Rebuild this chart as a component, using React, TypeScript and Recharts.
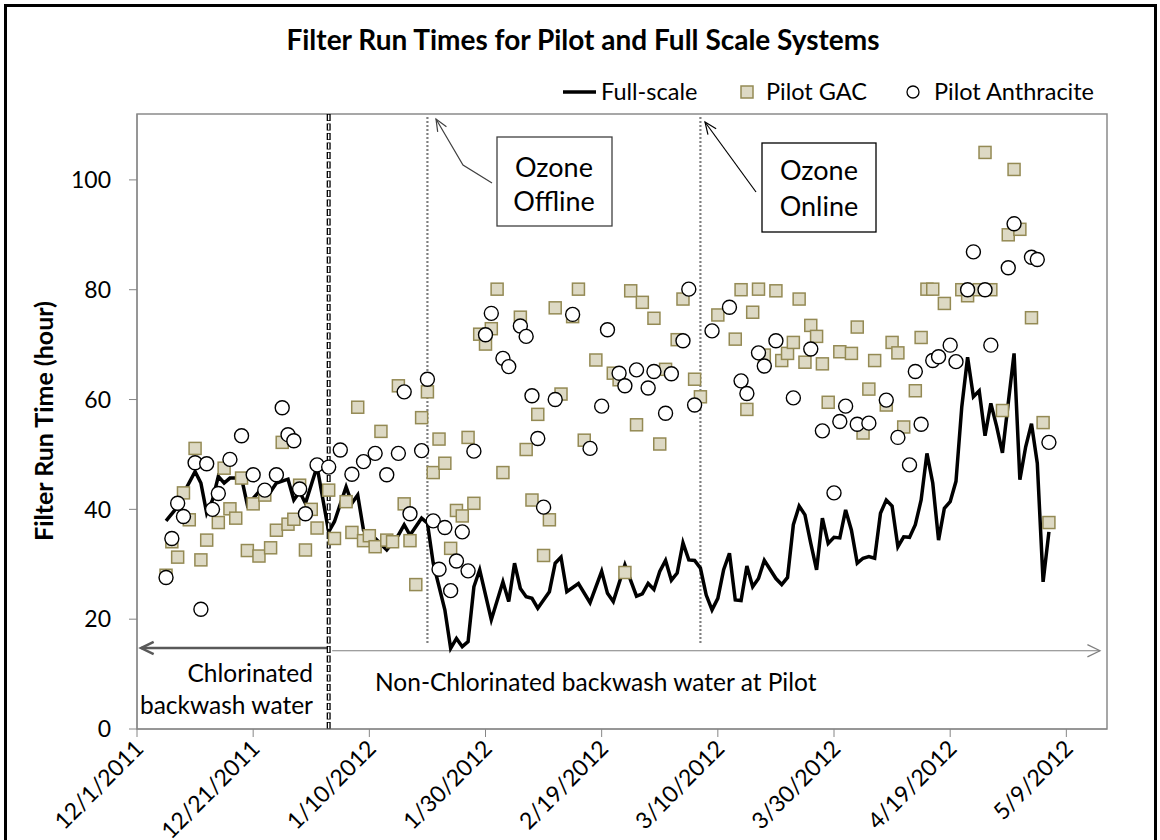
import React from 'react';
import { ComposedChart, Line, Scatter, XAxis, YAxis, ReferenceLine, ReferenceArea } from 'recharts';

// days counted from 12/1/2011
const dayTicks = [0, 20, 40, 60, 80, 100, 120, 140, 160];
const hourTicks = [0, 20, 40, 60, 80, 100];

const fullScaleDays = [
  5, 7, 8, 10, 11, 12, 13, 14, 15, 16,
  18, 19, 21, 23, 24, 26, 27, 28, 29, 31,
  33, 34, 36, 37, 38, 39, 41, 43, 45, 46,
  47, 49, 50, 51, 53, 54, 55, 56, 57, 58,
  59, 61, 63, 64, 65, 66, 67, 68, 69, 70,
  71, 72, 73, 74, 76, 78, 80, 81, 82, 84,
  86, 87, 88, 89, 90, 91, 92, 93, 94, 95,
  96, 97, 98, 99, 100, 101, 102, 103, 104, 105,
  106, 107, 108, 110, 111, 112, 113, 114, 115, 116,
  117, 118, 119, 120, 121, 122, 123, 124, 125, 126,
  127, 128, 129, 130, 131, 132, 133, 134, 135, 136,
  137, 138, 139, 140, 141, 142, 143, 144, 145, 146,
  147, 148, 149, 151, 152, 153, 154, 155, 156, 157,
];
const fullScaleHours = [
  37.9, 40.5, 42.9, 46.9, 44.8, 39.3, 41.7, 46.0, 44.8, 45.7,
  45.7, 40.8, 43.2, 43.2, 44.8, 45.5, 41.7, 43.2, 41.1, 47.8,
  35.9, 37.8, 44.1, 41.1, 42.6, 36.2, 34.7, 32.6, 35.3, 37.2,
  35.3, 38.4, 37.5, 30.2, 21.7, 14.7, 16.5, 15.0, 15.9, 25.9,
  29.0, 19.9, 26.8, 23.2, 30.2, 25.6, 24.1, 23.8, 22.0, 23.5,
  25.0, 30.2, 31.3, 25.0, 26.5, 23.0, 28.7, 24.7, 23.2, 29.9,
  24.2, 24.6, 26.5, 25.4, 28.7, 30.7, 27.1, 28.4, 33.9, 30.8,
  30.7, 29.3, 24.4, 21.7, 23.8, 29.0, 32.0, 23.5, 23.4, 29.7,
  25.9, 27.4, 30.7, 27.4, 26.3, 27.6, 37.2, 40.6, 39.0, 33.8,
  29.0, 38.4, 33.8, 34.9, 34.8, 39.9, 36.2, 30.2, 31.1, 31.4,
  31.1, 39.3, 41.7, 40.6, 33.2, 35.0, 34.9, 37.2, 41.7, 50.2,
  44.8, 34.4, 40.2, 41.4, 45.1, 58.7, 67.7, 60.5, 61.6, 53.4,
  59.3, 55.1, 50.3, 68.4, 45.4, 51.4, 55.6, 48.4, 26.8, 35.9,
];

const gacDays = [
  5, 6, 7, 8, 9, 10, 11, 12, 14, 15,
  16, 17, 18, 19, 20, 21, 22, 23, 24, 25,
  26, 27, 28, 29, 30, 31, 33, 34, 36, 37,
  38, 39, 40, 41, 42, 43, 44, 45, 46, 47,
  48, 49, 50, 51, 52, 53, 54, 55, 56, 57,
  58, 59, 60, 61, 62, 63, 66, 67, 68, 69,
  70, 71, 72, 73, 75, 76, 77, 79, 82, 83,
  84, 85, 86, 87, 89, 90, 91, 93, 94, 96,
  97, 100, 103, 104, 105, 106, 107, 108, 110, 111,
  112, 113, 114, 115, 116, 117, 118, 119, 121, 123,
  124, 125, 126, 127, 129, 130, 131, 132, 134, 135,
  136, 137, 139, 142, 143, 145, 146, 147, 149, 150,
  151, 152, 154, 156, 157,
];
const gacHours = [
  28.0, 34.1, 31.3, 43.0, 38.1, 51.1, 30.8, 34.4, 37.6, 47.5,
  40.1, 38.4, 45.7, 32.5, 41.0, 31.5, 42.6, 33.0, 36.2, 52.2,
  37.3, 38.2, 44.4, 32.6, 40.0, 36.6, 43.5, 34.7, 41.4, 35.8,
  58.6, 34.3, 35.2, 33.2, 54.2, 34.4, 34.1, 62.5, 41.0, 34.3,
  26.3, 56.7, 61.4, 46.7, 52.8, 48.4, 32.9, 39.8, 38.8, 53.1,
  41.1, 71.9, 70.1, 72.9, 80.1, 46.7, 75.0, 50.9, 41.7, 57.3,
  31.6, 38.1, 76.7, 61.0, 75.1, 80.1, 52.6, 67.2, 64.8, 63.6,
  28.5, 79.8, 55.4, 77.7, 74.8, 51.9, 65.5, 70.9, 78.3, 63.7,
  60.5, 75.4, 71.0, 80.0, 58.2, 75.9, 80.1, 68.1, 79.8, 67.1,
  68.4, 70.4, 78.3, 66.8, 73.5, 71.5, 66.5, 59.5, 68.7, 68.4,
  73.2, 53.9, 61.9, 67.1, 59.0, 70.4, 68.5, 55.0, 61.6, 71.3,
  80.1, 80.1, 77.5, 80.0, 78.9, 80.0, 105.0, 80.0, 58.0, 90.0,
  101.9, 91.0, 74.9, 55.8, 37.6,
];

const anthraciteDays = [
  5, 6, 7, 8, 10, 11, 12, 13, 14, 16,
  18, 20, 22, 24, 25, 26, 27, 28, 29, 31,
  33, 35, 37, 39, 41, 43, 45, 46, 47, 49,
  50, 51, 52, 53, 54, 55, 56, 57, 58, 60,
  61, 63, 64, 66, 67, 68, 69, 70, 72, 75,
  78, 80, 81, 83, 84, 86, 88, 89, 91, 92,
  94, 95, 96, 99, 102, 104, 105, 107, 108, 110,
  113, 116, 118, 120, 121, 122, 124, 126, 129, 131,
  133, 134, 135, 137, 138, 140, 141, 143, 144, 146,
  147, 150, 151, 154, 155, 157,
];
const anthraciteHours = [
  27.6, 34.7, 41.1, 38.7, 48.5, 21.8, 48.3, 40.0, 42.9, 49.1,
  53.4, 46.3, 43.5, 46.3, 58.5, 53.6, 52.5, 43.7, 39.2, 48.1,
  47.7, 50.8, 46.4, 48.7, 50.2, 46.3, 50.2, 61.4, 39.2, 50.7,
  63.7, 37.9, 29.1, 36.7, 25.2, 30.6, 35.9, 28.8, 50.6, 71.8,
  75.7, 67.5, 66.0, 73.4, 71.5, 60.7, 52.9, 40.4, 60.0, 75.5,
  51.1, 58.8, 72.7, 64.8, 62.5, 65.4, 62.1, 65.1, 57.5, 64.7,
  70.7, 80.1, 59.0, 72.5, 76.8, 63.4, 61.1, 68.5, 66.1, 70.7,
  60.3, 69.2, 54.3, 43.0, 56.0, 58.8, 55.5, 55.7, 59.9, 53.1,
  48.1, 65.1, 55.5, 67.1, 67.8, 69.9, 66.9, 80.0, 86.9, 80.0,
  69.9, 84.0, 92.0, 85.9, 85.5, 52.2,
];

// event days: pilot switch to non-chlorinated backwash, ozone offline, ozone online
const backwashSwitchDay = 33;
const ozoneOfflineDay = 50;
const ozoneOnlineDay = 97;

const FONT = 'Lato, "Open Sans", sans-serif';
const GAC_FILL = '#ddd9c4';
const GAC_EDGE = '#948a54';

const toRows = (days: number[], hours: number[]) => days.map((day, i) => ({ day, hours: hours[i] }));
const fullScaleRows = toRows(fullScaleDays, fullScaleHours);
const gacRows = toRows(gacDays, gacHours);
const anthraciteRows = toRows(anthraciteDays, anthraciteHours);

const dayLabel = (d: number) => {
  const dt = new Date(2011, 11, 1 + d);
  return `${dt.getMonth() + 1}/${dt.getDate()}/${dt.getFullYear()}`;
};

const DateTick = (props: any) => {
  const { x, payload } = props;
  const ax = x + 8;
  const ay = 750;
  return (
    <text x={ax} y={ay} transform={`rotate(-45, ${ax}, ${ay})`} textAnchor="end" fontSize={23} fontFamily={FONT} fill="#000">
      {dayLabel(payload.value)}
    </text>
  );
};

const GacSquare = (props: any) => (
  <rect x={props.cx - 6} y={props.cy - 6} width={12} height={12} fill={GAC_FILL} stroke={GAC_EDGE} strokeWidth={1.5} />
);
const AnthraciteCircle = (props: any) => (
  <circle cx={props.cx} cy={props.cy} r={7} fill="#fff" stroke="#000" strokeWidth={1.4} />
);

const arrowHead = (tx: number, ty: number, fx: number, fy: number, len: number, spread: number) => {
  const a = Math.atan2(fy - ty, fx - tx);
  const p1 = [tx + len * Math.cos(a + spread), ty + len * Math.sin(a + spread)];
  const p2 = [tx + len * Math.cos(a - spread), ty + len * Math.sin(a - spread)];
  return `${p1[0]},${p1[1]} ${tx},${ty} ${p2[0]},${p2[1]}`;
};

const arrowShape = (color: string, width: number) => (p: any) => (
  <g>
    <line x1={p.x1} y1={p.y1} x2={p.x2} y2={p.y2} stroke={color} strokeWidth={width} />
    <polyline points={arrowHead(p.x2, p.y2, p.x1, p.y1, 14, 0.45)} fill="none" stroke={color} strokeWidth={width} />
  </g>
);

function Overlay() {
  return (
    <svg width={1160} height={840} style={{ position: 'absolute', left: 0, top: 0, pointerEvents: 'none' }} fontFamily={FONT}>
      <text x={583} y={50} textAnchor="middle" fontSize={28} fontWeight={700}>
        Filter Run Times for Pilot and Full Scale Systems
      </text>
      <text x={53} y={421} textAnchor="middle" fontSize={25} fontWeight={700} transform="rotate(-90, 53, 421)">
        Filter Run Time (hour)
      </text>

      {/* legend */}
      <line x1={563} y1={92} x2={596} y2={92} stroke="#000" strokeWidth={3.5} />
      <text x={601} y={100} fontSize={23.5}>Full-scale</text>
      <rect x={741} y={86} width={12} height={12} fill={GAC_FILL} stroke={GAC_EDGE} strokeWidth={1.5} />
      <text x={766} y={100} fontSize={23.5}>Pilot GAC</text>
      <circle cx={913} cy={92} r={6} fill="#fff" stroke="#000" strokeWidth={1.3} />
      <text x={934} y={100} fontSize={23.5}>Pilot Anthracite</text>

      {/* ozone call-outs */}
      <rect x={497} y={137} width={115} height={89} fill="#fff" stroke="#404040" strokeWidth={1.3} />
      <text x={554} y={177} textAnchor="middle" fontSize={27}>Ozone</text>
      <text x={554} y={211} textAnchor="middle" fontSize={27}>Offline</text>
      <polyline points="492,183 463,165 436,119" fill="none" stroke="#404040" strokeWidth={1.2} />
      <polyline points={arrowHead(436, 119, 463, 165, 13, 0.4)} fill="none" stroke="#404040" strokeWidth={1.2} />

      <rect x={762} y={143} width={114} height={89} fill="#fff" stroke="#000" strokeWidth={1.3} />
      <text x={819} y={180} textAnchor="middle" fontSize={27}>Ozone</text>
      <text x={819} y={216} textAnchor="middle" fontSize={27}>Online</text>
      <line x1={756} y1={192} x2={705} y2={122} stroke="#000" strokeWidth={1.2} />
      <polyline points={arrowHead(705, 122, 756, 192, 13, 0.4)} fill="none" stroke="#000" strokeWidth={1.2} />

      {/* backwash period notes */}
      <text x={313} y={682} textAnchor="end" fontSize={24.5}>Chlorinated</text>
      <text x={313} y={714} textAnchor="end" fontSize={24.5}>backwash water</text>
      <text x={375} y={691} fontSize={24.5}>Non-Chlorinated backwash water at Pilot</text>
    </svg>
  );
}

export default function App() {
  return (
    <div style={{ position: 'absolute', left: 0, top: 0, width: 1160, height: 840, overflow: 'hidden', background: '#fff' }}>
      <ComposedChart width={1160} height={840} margin={{ top: 114, right: 53, bottom: 31, left: 77 }}>
        <XAxis
          type="number"
          dataKey="day"
          domain={[0, 167]}
          ticks={dayTicks}
          interval={0}
          allowDataOverflow
          height={80}
          tickSize={8}
          stroke="#868686"
          tick={<DateTick />}
        />
        <YAxis
          type="number"
          dataKey="hours"
          domain={[0, 112]}
          ticks={hourTicks}
          interval={0}
          allowDataOverflow
          width={60}
          tickSize={8}
          tickMargin={18}
          stroke="#868686"
          tick={{ fill: '#000', fontSize: 23, fontFamily: FONT }}
        />
        <ReferenceArea x1={0} x2={167} y1={0} y2={112} fill="none" stroke="#8a8a8a" strokeWidth={1.5} />

        <ReferenceLine
          segment={[{ x: backwashSwitchDay, y: 14.75 }, { x: 0.7, y: 14.75 }]}
          shape={arrowShape('#595959', 2.5)}
        />
        <ReferenceLine
          segment={[{ x: backwashSwitchDay + 0.6, y: 14.25 }, { x: 165.8, y: 14.25 }]}
          shape={arrowShape('#7f7f7f', 1.2)}
        />
        <ReferenceLine segment={[{ x: ozoneOfflineDay, y: 15.7 }, { x: ozoneOfflineDay, y: 111.6 }]} stroke="#555" strokeWidth={2.2} strokeDasharray="1.6 2.4" />
        <ReferenceLine segment={[{ x: ozoneOnlineDay, y: 15.7 }, { x: ozoneOnlineDay, y: 111.6 }]} stroke="#555" strokeWidth={2.2} strokeDasharray="1.6 2.4" />

        <Line
          data={fullScaleRows}
          dataKey="hours"
          type="linear"
          stroke="#000"
          strokeWidth={3.5}
          dot={false}
          isAnimationActive={false}
        />
        <Scatter data={gacRows} dataKey="hours" shape={<GacSquare />} isAnimationActive={false} />
        <Scatter data={anthraciteRows} dataKey="hours" shape={<AnthraciteCircle />} isAnimationActive={false} />

        <ReferenceLine x={backwashSwitchDay} stroke="#000" strokeWidth={4} strokeDasharray="7 2.5" />
        <ReferenceLine x={backwashSwitchDay} stroke="#fff" strokeWidth={1.4} strokeDasharray="5.6 3.9" strokeDashoffset={-0.7} />
      </ComposedChart>
      <Overlay />
      <div style={{ position: 'absolute', left: 4, top: 4, width: 1153, height: 860, border: '3px solid #000', boxSizing: 'border-box', pointerEvents: 'none' }} />
    </div>
  );
}
